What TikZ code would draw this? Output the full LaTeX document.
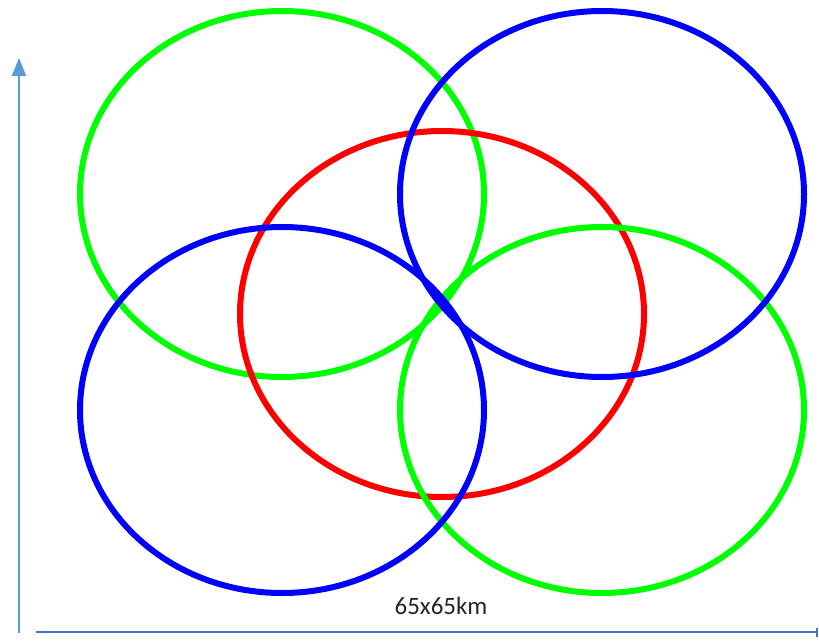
\documentclass[tikz,border=0pt]{standalone}
\usepackage{fontspec}
\setmainfont{Carlito}
\usetikzlibrary{shapes.geometric,arrows.meta}
\definecolor{pgreen}{HTML}{00FF00}
\definecolor{pblue}{HTML}{0000FF}
\definecolor{pred}{HTML}{FF0000}
\definecolor{axisv}{HTML}{5B9BD5}
\definecolor{axish}{HTML}{4472C4}
\begin{document}
\begin{tikzpicture}[x=1pt,y=-1pt,
  ring/.style={ellipse, draw, line width=6pt, minimum width=404pt, minimum height=366pt, inner sep=0pt},
  axisline/.style={line width=2.5pt}]
\useasboundingbox (0,0) rectangle (819,641);
\node[ring, draw=pgreen] (gtl) at (282,194) {};
\node[ring, draw=pred] (rc) at (442,314) {};
\node[ring, draw=pgreen] (gbr) at (602,410) {};
\node[ring, draw=pblue] (bbl) at (282,410) {};
\node[ring, draw=pblue] (btr) at (602,194) {};
\coordinate (vbot) at (19,633);
\coordinate (vtop) at (19,58);
\coordinate (hl) at (36,632);
\coordinate (hr) at (818,632);
\draw[axisline, draw=axisv, -{Triangle[length=18pt,width=14pt]}] (vbot) -- (vtop);
\draw[axisline, draw=axish, -{Bar[width=9pt,line width=2.5pt]}] (hl) -- (hr);
\node[font=\fontsize{25}{29}\selectfont, text=black!85] (lbl) at (441,606) {65x65km};
\end{tikzpicture}
\end{document}
